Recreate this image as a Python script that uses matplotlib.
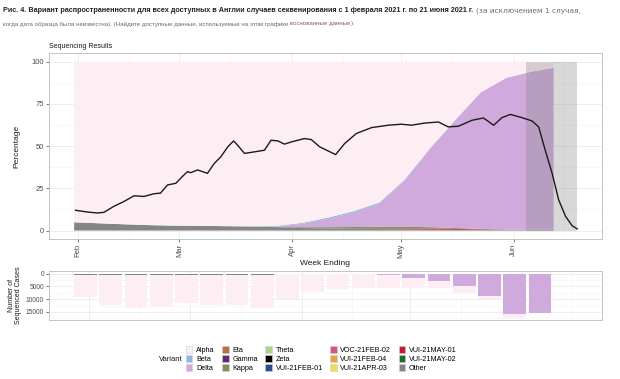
import numpy as np
import pandas as pd
import matplotlib
matplotlib.use("Agg")
import matplotlib.pyplot as plt
import matplotlib.dates as mdates
from matplotlib.patches import Patch

# ---------------- data ----------------
area_dates = ["2021-01-31", "2021-02-07", "2021-02-14", "2021-02-21", "2021-02-28",
              "2021-03-07", "2021-03-14", "2021-03-21", "2021-03-28", "2021-04-04",
              "2021-04-11", "2021-04-18", "2021-04-25", "2021-05-02", "2021-05-09",
              "2021-05-16", "2021-05-23", "2021-05-30", "2021-06-06", "2021-06-12"]
other_pct = [4.9, 4.3, 3.7, 3.2, 2.9, 2.8, 2.6, 2.4, 2.0, 1.5,
             1.2, 1.0, 0.9, 0.7, 0.6, 0.5, 0.4, 0.3, 0.3, 0.3]
may01_pct = [0, 0, 0, 0, 0, 0, 0, 0, 0, 0,
             0, 0.1, 0.3, 0.5, 0.6, 0.5, 0.3, 0.1, 0.05, 0]
kappa_pct = [0, 0, 0, 0, 0, 0, 0, 0, 0.2, 0.5,
             0.8, 1.0, 1.1, 1.0, 0.8, 0.5, 0.3, 0.2, 0.1, 0.1]
delta_pct = [0, 0, 0, 0, 0, 0, 0, 0, 0.3, 2.0,
             4.9, 8.6, 13.6, 27.5, 46.5, 64.0, 80.9, 89.8, 93.7, 96.0]
beta_pct = [0, 0, 0, 0, 0, 0, 0, 0.1, 0.3, 0.6,
            0.8, 0.8, 0.7, 0.5, 0.3, 0.2, 0.1, 0.1, 0.05, 0.05]

line_day = [-0.6, 2.6, 5.4, 7.2, 9.9, 12.7, 15.5, 18.2, 21.0, 22.8, 24.7, 27.0, 28.8,
            30.2, 31.1, 33.0, 35.7, 37.6, 39.4, 41.3, 42.9, 44.0, 45.9, 48.6, 51.4,
            53.2, 55.1, 56.9, 58.8, 62.4, 64.3, 66.6, 71.0, 73.5, 76.7, 80.9, 85.5,
            89.1, 91.9, 95.6, 99.3, 102.0, 104.8, 108.5, 111.7, 114.5, 116.8, 119.1,
            122.3, 125.1, 126.9, 128.7, 130.6, 132.4, 134.3, 136.1, 137.5]
line_pct = [12.0, 11.0, 10.4, 10.8, 14.3, 17.2, 20.6, 20.2, 21.8, 22.2, 27.0, 28.0, 32.0,
            34.9, 34.3, 35.9, 33.9, 39.8, 43.7, 49.6, 53.1, 50.6, 45.7, 46.6, 47.6,
            53.5, 53.1, 51.2, 52.5, 54.5, 53.9, 49.6, 45.0, 51.6, 57.5, 61.0, 62.4,
            63.0, 62.4, 63.7, 64.3, 61.4, 61.8, 65.3, 66.7, 62.4, 66.9, 68.8,
            66.9, 64.9, 61.4, 47.6, 33.9, 18.2, 8.4, 2.9, 1.0]
line_origin = "2021-02-01"

shade_start = "2021-06-04 12:00"
shade_end = "2021-06-18 08:00"

week_ending = pd.date_range("2021-01-31", periods=20, freq="7D")
bar_total = [9050, 12400, 13300, 13050, 11700, 12250, 12250, 13600, 10000, 7100,
             5900, 5800, 5700, 5800, 5700, 7700, 10100, 17300, 15600, 300]
bar_delta = [0, 0, 0, 0, 0, 0, 0, 0, 0, 10,
             30, 80, 250, 1600, 2700, 4700, 8900, 15900, 15400, 250]
bar_other = [550, 500, 500, 480, 450, 430, 400, 400, 350, 300,
             300, 280, 250, 150, 100, 80, 60, 60, 50, 10]

variant_names = ["Alpha", "Beta", "Delta", "Eta", "Gamma", "Kappa", "Theta", "Zeta",
                 "VUI-21FEB-01", "VOC-21FEB-02", "VUI-21FEB-04", "VUI-21APR-03",
                 "VUI-21MAY-01", "VUI-21MAY-02", "Other"]
variant_colors = ["#FDEEF3", "#8DB9E3", "#D0AADD", "#B8703F", "#5E2B72", "#7F8F5C",
                  "#A9D68E", "#000000", "#22508F", "#D2568A", "#E6A23C", "#EEDC5B",
                  "#C8143A", "#1C6B2E", "#858585"]
cmap = dict(zip(variant_names, variant_colors))

# ---------------- figure ----------------
W, H = 620, 379
fig = plt.figure(figsize=(W / 100, H / 100), dpi=100)
FONT = ["Liberation Sans", "DejaVu Sans"]
plt.rcParams["font.family"] = FONT

grid_major = "#ebebeb"
grid_minor = "#f4f4f4"
spine_col = "#c4c4c4"


def style_axes(ax):
    for s in ax.spines.values():
        s.set_color(spine_col)
        s.set_linewidth(0.7)
    ax.set_axisbelow(True)
    ax.grid(which="major", color=grid_major, lw=0.6)
    ax.grid(which="minor", color=grid_minor, lw=0.4)
    ax.tick_params(which="major", length=2, width=0.5, color="#444444",
                   labelcolor="#4d4d4d", pad=1.5)
    ax.tick_params(which="minor", length=0)


# top panel
ax1 = fig.add_axes([49 / W, 1 - 239 / H, (601.7 - 49) / W, (239 - 53.3) / H])
ad = pd.to_datetime(area_dates)
alpha_pct = 100 - (np.array(other_pct) + np.array(may01_pct) + np.array(kappa_pct)
                   + np.array(delta_pct) + np.array(beta_pct))
ax1.stackplot(ad, other_pct, may01_pct, kappa_pct, delta_pct, beta_pct, alpha_pct,
              colors=[cmap["Other"], cmap["VUI-21MAY-01"], cmap["Kappa"], cmap["Delta"],
                      cmap["Beta"], cmap["Alpha"]], lw=0, zorder=2)
ax1.fill_between(pd.to_datetime([shade_start, shade_end]), 0, 100,
                 color="#7f7f7f", alpha=0.3, lw=0, zorder=3)
ld = pd.Timestamp(line_origin) + pd.to_timedelta(line_day, unit="D")
ax1.plot(ld, line_pct, color="#1a1a1a", lw=1.0, zorder=4)

t0 = mdates.date2num(pd.Timestamp(area_dates[0]))
t1 = mdates.date2num(pd.Timestamp(shade_end))
span = t1 - t0
ax1.set_xlim(t0 - 0.05 * span, t1 + 0.05 * span)
ax1.set_ylim(-5, 105)
ax1.set_yticks([0, 25, 50, 75, 100])
ax1.set_yticks([12.5, 37.5, 62.5, 87.5], minor=True)
ax1.xaxis.set_major_locator(mdates.MonthLocator())
ax1.xaxis.set_major_formatter(mdates.DateFormatter("%b"))
ax1.xaxis.set_minor_locator(mdates.MonthLocator(bymonthday=15))
style_axes(ax1)
ax1.tick_params(axis="both", labelsize=5.5)
for lab in ax1.get_xticklabels():
    lab.set_rotation(90)
ax1.set_ylabel("Percentage", fontsize=6, color="#1a1a1a", labelpad=8)
ax1.set_xlabel("Week Ending", fontsize=6, color="#1a1a1a", labelpad=1.5)
fig.text(49 / W, 1 - 47 / H, "Sequencing Results", fontsize=5, color="#1a1a1a",
         va="center", ha="left")

# bottom panel
ax2 = fig.add_axes([49 / W, 1 - 320 / H, (601.7 - 49) / W, (320 - 271.3) / H])
bw = 6.3
tot = np.array(bar_total, float)
dl = np.array(bar_delta, float)
ot = np.array(bar_other, float)
al = tot - dl - ot
ax2.bar(week_ending, ot, width=bw, color=cmap["Other"], lw=0, zorder=2)
ax2.bar(week_ending, dl, width=bw, bottom=ot, color=cmap["Delta"], lw=0, zorder=2)
ax2.bar(week_ending, al, width=bw, bottom=ot + dl, color=cmap["Alpha"], lw=0, zorder=2)
b0 = mdates.date2num(week_ending[0]) - bw / 2
b1 = mdates.date2num(week_ending[-1]) + bw / 2
bs = b1 - b0
ax2.set_xlim(b0 - 0.05 * bs, b1 + 0.05 * bs)
ymax = tot.max()
ax2.set_ylim(ymax * 1.05, -ymax * 0.05)
ax2.set_yticks([0, 5000, 10000, 15000])
ax2.set_yticks([2500, 7500, 12500, 17500], minor=True)
ax2.xaxis.set_major_locator(mdates.MonthLocator())
ax2.xaxis.set_minor_locator(mdates.MonthLocator(bymonthday=15))
style_axes(ax2)
ax2.tick_params(axis="x", length=0, labelbottom=False)
ax2.tick_params(axis="y", labelsize=4.8)
ax2.set_ylabel("Number of\nSequenced Cases", fontsize=5, color="#1a1a1a",
               labelpad=3, linespacing=0.95)

# legend
handles = [Patch(facecolor=c, edgecolor="#d0d0d0", lw=0.4) for c in variant_colors]
fig.legend(handles, variant_names, ncol=5, loc="upper left",
           bbox_to_anchor=(185.5 / W, 1 - 346.5 / H), frameon=False, fontsize=5.2,
           handlelength=0.95, handleheight=1.0, handletextpad=0.5,
           labelspacing=0.15, columnspacing=1.0, borderpad=0, borderaxespad=0)
fig.text(159 / W, 1 - 359.5 / H, "Variant", fontsize=5.5, color="#1a1a1a",
         va="center", ha="left")

# title lines
TFONT = ["Liberation Sans", "DejaVu Sans"]
renderer = fig.canvas.get_renderer()
t1a = fig.text(3 / W, 1 - 10 / H,
               "Рис. 4. Вариант распространенности для всех доступных в Англии случаев "
               "секвенирования с 1 февраля 2021 г. по 21 июня 2021 г.",
               fontsize=5.2, fontweight="bold", family=TFONT, color="#222222",
               va="center", ha="left")
bb = t1a.get_window_extent(renderer)
fig.text((bb.x1 + 3) / W, 1 - 10.5 / H, "(за исключением 1 случая,",
         fontsize=5.3, family=["DejaVu Sans"], color="#6b6b6b", va="center", ha="left")
t2a = fig.text(3 / W, 1 - 24 / H,
               "когда дата образца была неизвестна). (Найдите доступные данные, "
               "используемые на этом графике ",
               fontsize=4.4, family=TFONT, color="#6b6b6b", va="center", ha="left")
bb2 = t2a.get_window_extent(renderer)
t2b = fig.text(bb2.x1 / W, 1 - 24 / H, "воснованные данные",
               fontsize=4.4, family=TFONT, color="#9a4a6c", va="center", ha="left")
bb3 = t2b.get_window_extent(renderer)
fig.text(bb3.x1 / W, 1 - 24 / H, ").",
         fontsize=4.4, family=TFONT, color="#6b6b6b", va="center", ha="left")

fig.savefig("out.png", dpi=100)
